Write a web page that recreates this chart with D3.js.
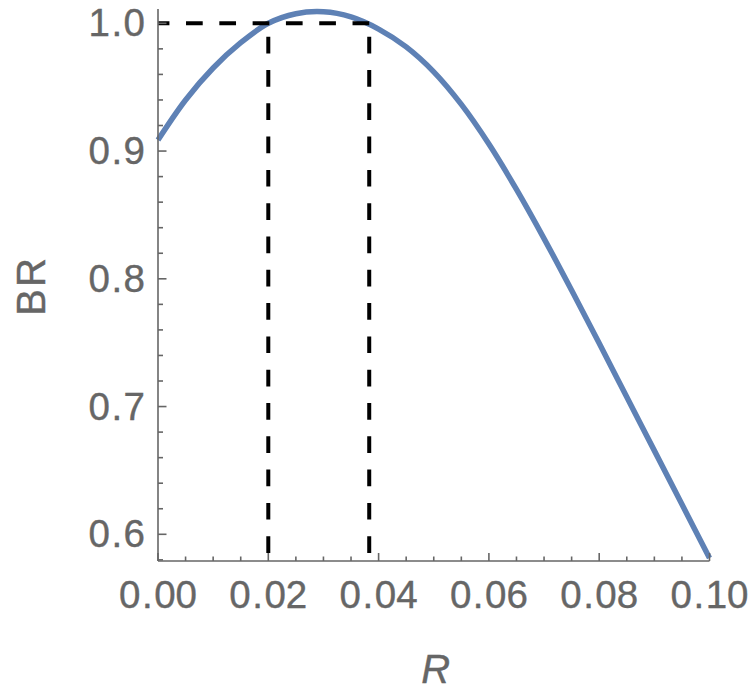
<!DOCTYPE html>
<html>
<head>
<meta charset="utf-8">
<script src="https://cdn.jsdelivr.net/npm/d3@7"></script>
<style>
  html, body { margin: 0; padding: 0; background: #fff; }
  svg { display: block; }
  text { font-family: "Liberation Sans", Arial, sans-serif; fill: #666666; stroke: #666666; stroke-width: 0.4; }
</style>
</head>
<body>
<svg id="chart" width="750" height="692"></svg>
<script>
// ---- data ----
const rValues  = [0, 0.005, 0.01, 0.015, 0.02, 0.025, 0.03, 0.035, 0.04, 0.045, 0.05,
                  0.055, 0.06, 0.065, 0.07, 0.075, 0.08, 0.085, 0.09, 0.095, 0.1];
const brValues = [0.9087, 0.9400, 0.9650, 0.9848, 1.0000, 1.0075, 1.0090, 1.0050, 0.9955, 0.9815, 0.9620,
                  0.9365, 0.9055, 0.8700, 0.8315, 0.7910, 0.7495, 0.7075, 0.6655, 0.6235, 0.5815];
const xTickValues = [0, 0.02, 0.04, 0.06, 0.08, 0.10];
const xTickLabels = ["0.00", "0.02", "0.04", "0.06", "0.08", "0.10"];
const yTickValues = [0.6, 0.7, 0.8, 0.9, 1.0];
const yTickLabels = ["0.6", "0.7", "0.8", "0.9", "1.0"];
const xMinorTicks = d3.range(0, 21).map(i => i * 0.005);
const yMinorTicks = d3.range(29, 51).map(i => i * 0.02);
const markerR = [0.02, 0.0383];   // R where BR = 1
const markerBR = 1.0;
const xDomain = [0, 0.1];
const yDomain = [0.5791, 1.0112];
const xLabel = "R";
const yLabel = "BR";

// ---- layout ----
const svg = d3.select("#chart");
const x = d3.scaleLinear().domain(xDomain).range([158, 709.5]);
const y = d3.scaleLinear().domain(yDomain).range([561, 9]);
const axisColor = "#666666";

// curve
const line = d3.line()
  .x((d, i) => x(rValues[i]))
  .y(d => y(d))
  .curve(d3.curveCatmullRom.alpha(0.5));

svg.append("path")
  .datum(brValues)
  .attr("d", line)
  .attr("fill", "none")
  .attr("stroke", "#5E81B5")
  .attr("stroke-width", 5.5)
  .attr("stroke-linejoin", "round");

// dashed marker lines
svg.append("line")
  .attr("x1", x(markerR[1])).attr("x2", x(xDomain[0]))
  .attr("y1", y(markerBR)).attr("y2", y(markerBR))
  .attr("stroke", "#000").attr("stroke-width", 4)
  .attr("stroke-dasharray", "16.7,16.6");

markerR.forEach(r => {
  svg.append("line")
    .attr("x1", x(r)).attr("x2", x(r))
    .attr("y1", y(markerBR)).attr("y2", y(yDomain[0]))
    .attr("stroke", "#000").attr("stroke-width", 4)
    .attr("stroke-dasharray", "16.7,16.6")
    .attr("stroke-dashoffset", 19.9);
});

// axes lines
svg.append("line")
  .attr("x1", x(xDomain[0])).attr("x2", x(xDomain[1]))
  .attr("y1", y(yDomain[0])).attr("y2", y(yDomain[0]))
  .attr("stroke", axisColor).attr("stroke-width", 1.6);
svg.append("line")
  .attr("x1", x(xDomain[0])).attr("x2", x(xDomain[0]))
  .attr("y1", y(yDomain[0])).attr("y2", y(yDomain[1]))
  .attr("stroke", axisColor).attr("stroke-width", 1.6);

const isMajor = (v, majors) => majors.some(m => Math.abs(m - v) < 1e-9);

// x ticks (inward, upward)
svg.append("g").selectAll("line")
  .data(xMinorTicks)
  .join("line")
  .attr("x1", d => x(d)).attr("x2", d => x(d))
  .attr("y1", y(yDomain[0]))
  .attr("y2", d => y(yDomain[0]) - (isMajor(d, xTickValues) ? 8 : 4.5))
  .attr("stroke", axisColor).attr("stroke-width", 1.6);

// y ticks (inward, rightward)
svg.append("g").selectAll("line")
  .data(yMinorTicks.filter(v => v >= yDomain[0] && v <= yDomain[1]))
  .join("line")
  .attr("y1", d => y(d)).attr("y2", d => y(d))
  .attr("x1", x(xDomain[0]))
  .attr("x2", d => x(xDomain[0]) + (isMajor(d, yTickValues) ? 8.5 : 5))
  .attr("stroke", axisColor).attr("stroke-width", 1.6);

// label helper with slightly wider spacing around the decimal point
function numLabel(sel, str) {
  const parts = str.split(".");
  sel.append("tspan").text(parts[0]);
  sel.append("tspan").attr("dx", 1.5).text(".");
  sel.append("tspan").attr("dx", 1.5).text(parts[1]);
}

// x tick labels
xTickValues.forEach((v, i) => {
  const t = svg.append("text")
    .attr("x", x(v))
    .attr("y", 607.5)
    .attr("text-anchor", "middle")
    .attr("font-size", 38.5);
  numLabel(t, xTickLabels[i]);
});

// y tick labels
yTickValues.forEach((v, i) => {
  const t = svg.append("text")
    .attr("x", 145)
    .attr("y", y(v) + 13)
    .attr("text-anchor", "end")
    .attr("font-size", 38.5);
  numLabel(t, yTickLabels[i]);
});

// axis titles
svg.append("text")
  .attr("x", (x(xDomain[0]) + x(xDomain[1])) / 2 + 2)
  .attr("y", 683)
  .attr("text-anchor", "middle")
  .attr("font-size", 40)
  .attr("font-style", "italic")
  .text(xLabel);

svg.append("text")
  .attr("transform", `translate(45, ${(y(yDomain[0]) + y(yDomain[1])) / 2 + 1}) rotate(-90)`)
  .attr("text-anchor", "middle")
  .attr("font-size", 40)
  .attr("letter-spacing", 2)
  .text(yLabel);
</script>
</body>
</html>
